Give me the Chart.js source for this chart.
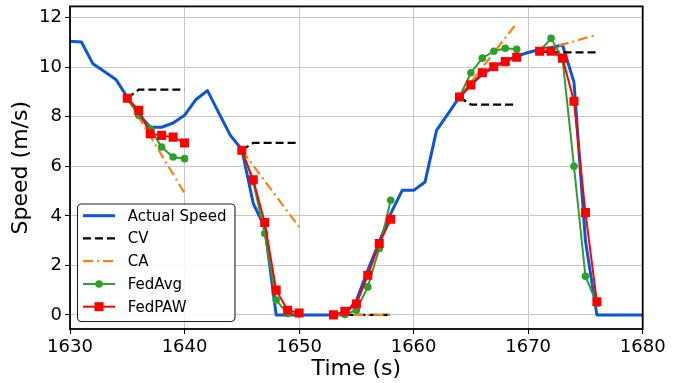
<!DOCTYPE html>
<html><head><meta charset="utf-8">
<script src="https://cdn.jsdelivr.net/npm/chart.js@4/dist/chart.umd.min.js"></script>
<style>html,body{margin:0;padding:0;background:#fff;} canvas{display:block;}</style>
</head><body>
<canvas id="c" width="694" height="383"></canvas>
<script>
// ---- data ----
const actualTime = [1630,1631,1632,1633,1634,1635,1636,1637,1638,1639,1640,1641,1642,1643,1644,1645,1646,1647,1648,1649,1650,1651,1652,1653,1654,1655,1656,1657,1658,1659,1660,1661,1662,1663,1664,1665,1666,1667,1668,1669,1670,1671,1672,1673,1674,1675,1676,1677,1678,1679,1680];
const actualSpeed = [11.05,11.02,10.14,9.83,9.51,8.80,8.10,7.58,7.58,7.75,8.06,8.70,9.06,8.15,7.25,6.68,4.50,3.55,0,0,0,0,0,0,0,0.58,1.80,2.95,4.09,5.03,5.03,5.37,7.45,8.12,8.80,9.30,9.72,10.02,10.25,10.45,10.60,10.72,10.80,10.90,9.40,3.00,0,0,0,0,0];

const segmentTimes = [
  [1635,1636,1637,1638,1639,1640],
  [1645,1646,1647,1648,1649,1650],
  [1653,1654,1655,1656,1657,1658],
  [1664,1665,1666,1667,1668,1669],
  [1671,1672,1673,1674,1675,1676]
];
const cvSpeed = [
  [8.75,9.10,9.10,9.10,9.10,9.10],
  [6.65,6.95,6.95,6.95,6.95,6.95],
  [0,0,0,0,0,0],
  [8.80,8.49,8.49,8.49,8.49,8.49],
  [10.65,10.60,10.60,10.60,10.60,10.60]
];
const caTimes = [[1635,1640],[1645,1650],[1653,1658],[1664,1669],[1671,1676]];
const caSpeed = [[8.75,4.92],[6.65,3.55],[0,0],[8.80,11.78],[10.65,11.32]];
const fedAvgSpeed = [
  [8.75,8.06,7.52,6.78,6.38,6.31],
  [6.65,5.37,3.29,0.60,0.06,0.05],
  [0.00,0.02,0.19,1.13,2.68,4.63],
  [8.80,9.78,10.37,10.65,10.77,10.73],
  [10.65,11.17,10.35,6.00,1.56,0.46]
];
const fedPawSpeed = [
  [8.75,8.26,7.32,7.25,7.18,6.94],
  [6.65,5.46,3.73,1.00,0.19,0.08],
  [0.00,0.15,0.44,1.60,2.88,3.86],
  [8.80,9.29,9.78,10.02,10.23,10.41],
  [10.65,10.65,10.37,8.63,4.13,0.53]
];
const xTicks = [1630,1640,1650,1660,1670,1680];
const yTicks = [0,2,4,6,8,10,12];
const seriesLabels = ['Actual Speed','CV','CA','FedAvg','FedPAW'];

// ---- build point lists ----
function joinSegments(times, vals) {
  const out = [];
  times.forEach((ts, i) => {
    if (i > 0) out.push({x: (times[i-1][times[i-1].length-1] + ts[0]) / 2, y: null});
    ts.forEach((t, j) => out.push({x: t, y: vals[i][j]}));
  });
  return out;
}
const FONT = '"DejaVu Sans", sans-serif';

const spinePlugin = {
  id: 'spines',
  afterDatasetsDraw(chart) {
    const {ctx, chartArea: a} = chart;
    ctx.save();
    ctx.strokeStyle = '#000';
    ctx.lineWidth = 1.8;
    ctx.strokeRect(a.left, a.top, a.right - a.left, a.bottom - a.top);
    ctx.restore();
  }
};

const legendPlugin = {
  id: 'boxLegend',
  afterDraw(chart) {
    const ctx = chart.ctx;
    ctx.save();
    const bx = 77.5, by = 204, bw = 157.5, bh = 117.5;
    ctx.beginPath();
    ctx.roundRect(bx, by, bw, bh, 4);
    ctx.fillStyle = 'rgba(255,255,255,0.85)';
    ctx.fill();
    ctx.strokeStyle = '#222';
    ctx.lineWidth = 1.1;
    ctx.stroke();
    chart.data.datasets.forEach((ds, i) => {
      const y = by + 11.7 + i * 22.75;
      ctx.beginPath();
      ctx.setLineDash(ds.borderDash || []);
      ctx.strokeStyle = ds.borderColor;
      ctx.lineWidth = ds.borderWidth;
      ctx.moveTo(83, y); ctx.lineTo(115, y); ctx.stroke();
      ctx.setLineDash([]);
      if (ds.pointRadius > 0) {
        ctx.fillStyle = ds.pointBackgroundColor;
        ctx.beginPath();
        if (ds.pointStyle === 'rect') {
          const s = ds.pointRadius * Math.SQRT1_2;
          ctx.rect(99 - s, y - s, 2 * s, 2 * s);
        } else {
          ctx.arc(99, y, ds.pointRadius, 0, Math.PI * 2);
        }
        ctx.fill();
      }
      ctx.fillStyle = '#000';
      ctx.font = '15px ' + FONT;
      ctx.textBaseline = 'middle';
      ctx.textAlign = 'left';
      ctx.fillText(ds.label, 127.7, y + 1);
    });
    ctx.restore();
  }
};

new Chart(document.getElementById('c'), {
  type: 'line',
  data: {
    datasets: [
      {label: seriesLabels[0], data: actualTime.map((t, i) => ({x: t, y: actualSpeed[i]})),
       borderColor: '#0a55d8', borderWidth: 3, pointRadius: 0, order: 5, borderJoinStyle: 'round'},
      {label: seriesLabels[1], data: joinSegments(segmentTimes, cvSpeed),
       borderColor: '#000', borderWidth: 2.2, borderDash: [8, 4], pointRadius: 0, order: 4},
      {label: seriesLabels[2], data: joinSegments(caTimes, caSpeed),
       borderColor: '#ff7f0e', borderWidth: 2.2, borderDash: [10, 4, 2, 4], pointRadius: 0, order: 3},
      {label: seriesLabels[3], data: joinSegments(segmentTimes, fedAvgSpeed),
       borderColor: '#2ca02c', borderWidth: 2, pointRadius: 3.8, pointStyle: 'circle',
       pointBackgroundColor: '#2ca02c', pointBorderColor: '#2ca02c', pointBorderWidth: 0, order: 2},
      {label: seriesLabels[4], data: joinSegments(segmentTimes, fedPawSpeed),
       borderColor: '#ff0000', borderWidth: 2, pointRadius: 6.4, pointStyle: 'rect',
       pointBackgroundColor: '#ff0000', pointBorderColor: '#ff0000', pointBorderWidth: 0, order: 1}
    ]
  },
  options: {
    responsive: false,
    animation: false,
    devicePixelRatio: 1,
    spanGaps: false,
    layout: {padding: {left: 0, right: 51.3, top: 5.7, bottom: 0}},
    plugins: {legend: {display: false}, tooltip: {enabled: false}},
    elements: {line: {tension: 0}},
    scales: {
      x: {
        type: 'linear', min: 1630, max: 1680,
        afterBuildTicks: s => { s.ticks = xTicks.map(v => ({value: v})); },
        afterFit: s => { s.height = 54; s.paddingLeft = 0; s.paddingRight = 0; },
        grid: {color: '#c8c8c8', lineWidth: 1, tickColor: '#000', tickLength: 5, drawTicks: true},
        border: {display: false},
        ticks: {color: '#000', font: {family: FONT, size: 18}, padding: 3, maxRotation: 0,
                callback: v => String(v)},
        title: {display: true, text: 'Time (s)', color: '#000', font: {family: FONT, size: 22}, padding: {top: 0, bottom: 1}}
      },
      y: {
        type: 'linear', min: -0.57, max: 12.46,
        afterBuildTicks: s => { s.ticks = yTicks.map(v => ({value: v})); },
        afterFit: s => { s.width = 70; s.paddingTop = 0; s.paddingBottom = 0; },
        grid: {color: '#c8c8c8', lineWidth: 1, tickColor: '#000', tickLength: 5, drawTicks: true},
        border: {display: false},
        ticks: {color: '#000', font: {family: FONT, size: 18}, padding: 3, callback: v => String(v)},
        title: {display: true, text: 'Speed (m/s)', color: '#000', font: {family: FONT, size: 22}, padding: {top: 8, bottom: 0}}
      }
    }
  },
  plugins: [spinePlugin, legendPlugin]
});
</script>
</body></html>
